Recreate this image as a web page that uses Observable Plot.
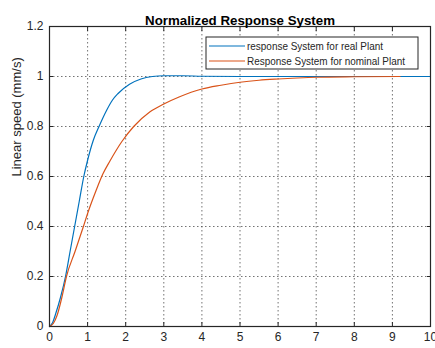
<!DOCTYPE html>
<html><head><meta charset="utf-8">
<script src="https://cdn.jsdelivr.net/npm/d3@7"></script>
<script src="https://cdn.jsdelivr.net/npm/@observablehq/plot@0.6"></script>
<style>body{margin:0;background:#fff} svg{display:block}</style>
</head><body><div id="chart"></div>
<script>
const titleText = "Normalized Response System";
const yLabel = "Linear speed (mm/s)";
const seriesNames = ["response System for real Plant", "Response System for nominal Plant"];
const seriesColors = ["#0072BD", "#D95319"];
const xTicks = [0, 1, 2, 3, 4, 5, 6, 7, 8, 9, 10];
const yTicks = [0, 0.2, 0.4, 0.6, 0.8, 1, 1.2];
const yTickLabels = ["0", "0.2", "0.4", "0.6", "0.8", "1", "1.2"];

const realT = [0, 0.08, 0.16, 0.29, 0.42, 0.54, 0.66, 0.78, 0.9, 1.0, 1.15, 1.3, 1.5, 1.65, 1.8, 2.1, 2.4, 2.7, 3.0, 3.5, 4.0, 5.0, 10];
const realY = [0, 0.015, 0.05, 0.117, 0.2, 0.3, 0.4, 0.5, 0.6, 0.665, 0.745, 0.8, 0.865, 0.905, 0.932, 0.969, 0.99, 1.0, 1.003, 1.003, 1.001, 1.0, 1.0];
const nomT = [0, 0.1, 0.2, 0.33, 0.445, 0.67, 0.89, 1.0, 1.22, 1.4, 1.59, 1.9, 2.21, 2.63, 3.0, 3.4, 4.0, 4.5, 5.0, 5.5, 6.0, 6.5, 7.0, 8.0, 9.2];
const nomY = [0, 0.012, 0.045, 0.12, 0.2, 0.3, 0.4, 0.452, 0.543, 0.61, 0.663, 0.74, 0.8, 0.858, 0.89, 0.918, 0.95, 0.965, 0.977, 0.985, 0.99, 0.994, 0.997, 0.999, 1.0];

const data = [
  ...realT.map((t, i) => ({t, v: realY[i], s: seriesNames[0]})),
  ...nomT.map((t, i) => ({t, v: nomY[i], s: seriesNames[1]}))
];

const W = 435, H = 348;
const ml = 49, mr = 5, mt = 26, mb = 22;
const font = "Liberation Sans, Arial, sans-serif";
const gridStyle = {stroke: "#444", strokeOpacity: 0.75, strokeDasharray: "1.5,2.5", strokeWidth: 1};

const chart = Plot.plot({
  width: W, height: H,
  marginLeft: ml, marginRight: mr, marginTop: mt, marginBottom: mb,
  style: {fontFamily: font, fontSize: "12px", color: "#262626", background: "#fff"},
  x: {domain: [0, 10], ticks: xTicks},
  y: {domain: [0, 1.2], ticks: yTicks},
  color: {domain: seriesNames, range: seriesColors},
  marks: [
    Plot.gridX(xTicks.slice(1, -1), {...gridStyle}),
    Plot.gridY(yTicks.slice(1, -1), {...gridStyle}),
    Plot.axisX(xTicks, {anchor: "bottom", tickSize: 0, tickPadding: 6, label: null, fontSize: 12}),
    Plot.axisY(yTicks, {anchor: "left", tickSize: 0, tickPadding: 6, label: null, fontSize: 12, tickFormat: (d, i) => yTickLabels[i]}),
    Plot.axisX(xTicks, {anchor: "bottom", tickSize: 4, dy: -4, text: null, label: null, stroke: "#262626"}),
    Plot.axisX(xTicks, {anchor: "top", tickSize: 4, dy: 4, text: null, label: null, stroke: "#262626"}),
    Plot.axisY(yTicks, {anchor: "left", tickSize: 4, dx: 4, text: null, label: null, stroke: "#262626"}),
    Plot.axisY(yTicks, {anchor: "right", tickSize: 4, dx: -4, text: null, label: null, stroke: "#262626"}),
    Plot.line(data, {x: "t", y: "v", z: "s", stroke: "s", strokeWidth: 1.2, curve: "monotone-x"}),
    Plot.frame({stroke: "#262626", strokeWidth: 1.2}),
    Plot.text([titleText], {frameAnchor: "top", dy: -11, fontWeight: "bold", fontSize: 13.3, fill: "#000"}),
    Plot.text([yLabel], {frameAnchor: "left", dx: -33, rotate: -90, fontSize: 13, fill: "#262626"})
  ]
});

// legend inside the SVG (top-right box, as in MATLAB)
const svg = d3.select(chart);
const lx = 206, ly = 37, lw = 212, lh = 32;
const textLens = [136, 158];
const lg = svg.append("g").attr("font-family", font).attr("font-size", 11).attr("text-anchor", "start");
lg.append("rect").attr("x", lx).attr("y", ly).attr("width", lw).attr("height", lh)
  .attr("fill", "#fff").attr("stroke", "#262626").attr("stroke-width", 1);
seriesNames.forEach((name, i) => {
  const yy = ly + 9 + i * 15;
  lg.append("line").attr("x1", lx + 3).attr("x2", lx + 39).attr("y1", yy).attr("y2", yy)
    .attr("stroke", seriesColors[i]).attr("stroke-width", 1.2);
  lg.append("text").attr("x", lx + 41).attr("y", yy).attr("dy", "0.35em")
    .attr("fill", "#262626").attr("textLength", textLens[i]).attr("lengthAdjust", "spacingAndGlyphs")
    .text(name);
});

document.getElementById("chart").appendChild(chart);
</script>
</body></html>
